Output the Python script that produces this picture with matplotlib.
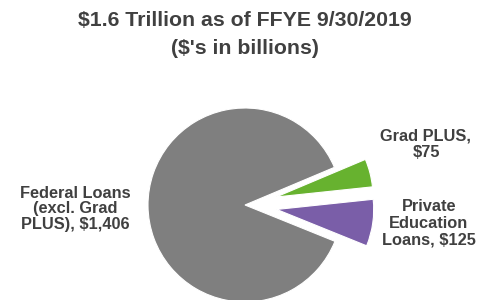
import matplotlib
matplotlib.use("Agg")
import matplotlib.pyplot as plt

# Outstanding student loan balances, $ billions
labels = ["Federal Loans\n(excl. Grad\nPLUS), $1,406", "Grad PLUS,\n$75", "Private\nEducation\nLoans, $125"]
values = [1406, 75, 125]
colors = ["#7f7f7f", "#67b22f", "#7a5ea8"]

plt.rcParams['font.family'] = ['Liberation Sans', 'DejaVu Sans']

fig = plt.figure(figsize=(4.89, 3.0), dpi=100)
ax = fig.add_axes([0, 0, 1, 1])

r = 97
ax.pie(values, colors=colors, explode=[0, 0.33 * r, 0.33 * r], startangle=338,
       counterclock=False, center=(245, 95), radius=r,
       wedgeprops=dict(linewidth=0.8, edgecolor='white'))

# pie() resets the limits, so set them afterwards
ax.set_xlim(0, 489)
ax.set_ylim(0, 300)
ax.set_aspect('equal')
ax.axis('off')

txt = dict(fontsize=11.8, fontweight='bold', color='#404040', ha='center', va='center')
ax.text(75, 91, labels[0], linespacing=1.0, **txt)
ax.text(426, 156, labels[1], linespacing=1.15, **txt)
ax.text(429, 77, labels[2], linespacing=1.15, **txt)

fig.text(0.5, 1 - 20.5 / 300, "$1.6 Trillion as of FFYE 9/30/2019", fontsize=15.3, fontweight='bold',
         color='#404040', ha='center', va='center')
fig.text(0.5, 1 - 48 / 300, "($'s in billions)", fontsize=15.3, fontweight='bold',
         color='#404040', ha='center', va='center')

fig.savefig("out.png", dpi=100)
